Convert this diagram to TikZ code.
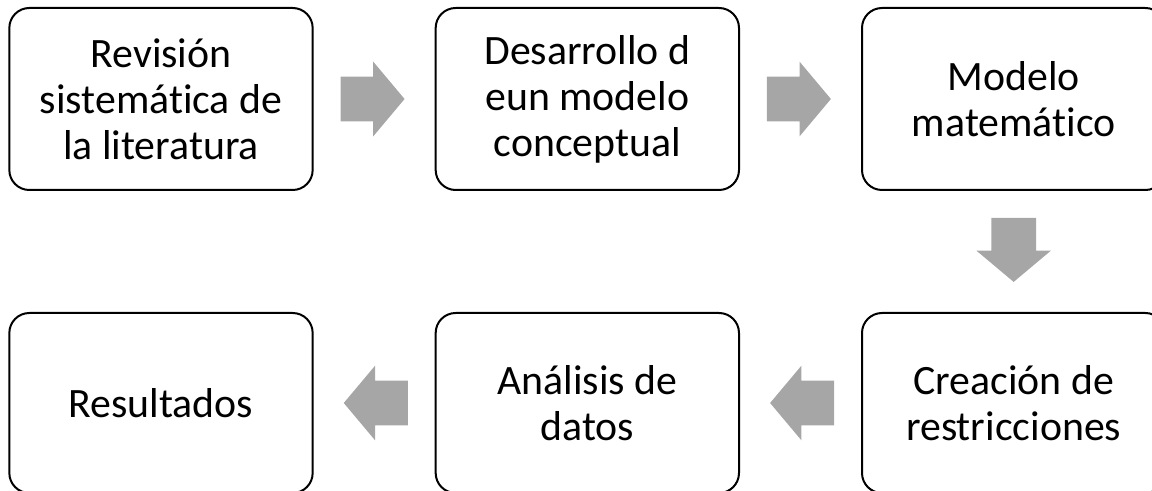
\documentclass[tikz,border=0pt]{standalone}
\usepackage{fontspec}
\setmainfont{Carlito}[Ligatures={NoCommon}]
\definecolor{arrowgray}{RGB}{166,166,166}
\usetikzlibrary{positioning,shapes.arrows,calc}

\begin{document}
\begin{tikzpicture}[x=0.5pt,y=-0.5pt,
    stepbox/.style={draw,line width=1pt,rounded corners=10pt,
      minimum width=151pt,minimum height=91pt,text width=145pt,
      align=flush center,font=\fontsize{20.9}{23}\selectfont},
    blockarrow/.style={single arrow,fill=arrowgray,draw=none,anchor=tail,
      inner xsep=0pt,inner ysep=11pt,
      minimum height=32pt,minimum width=37pt,
      single arrow head extend=7.5pt,single arrow tip angle=100},
    node distance=60.5pt
    ]
    \useasboundingbox (0,0) rectangle (1152,491);

    % the top row
    \node[stepbox] (b1) at (161,99) {Revisión\\sistemática de\\la literatura};
    \node[stepbox,right=of b1] (b2) {Desarrollo d\\eun modelo\\conceptual};
    \node[stepbox,right=of b2] (b3) {Modelo\\matemático};

    % the bottom row
    \node[stepbox,below=of b3,minimum height=90pt] (b4) {Creación de\\restricciones};
    \node[stepbox,left=of b4,minimum height=90pt] (b5) {Análisis de\\datos};
    \node[stepbox,left=of b5,minimum height=90pt] (b6) {Resultados};

    % the arrows (tail sits half a length before the midpoint)
    \node[blockarrow] (a1) at ($(b1.east)!0.5!(b2.west)+(-34,0)$) {};
    \node[blockarrow] (a2) at ($(b2.east)!0.5!(b3.west)+(-34,0)$) {};
    \node[blockarrow,rotate=-90] (a3) at ($(b3.south)!0.5!(b4.north)+(0,-34)$) {};
    \node[blockarrow,rotate=180] (a4) at ($(b4.west)!0.5!(b5.east)+(34,0)$) {};
    \node[blockarrow,rotate=180] (a5) at ($(b5.west)!0.5!(b6.east)+(34,0)$) {};
\end{tikzpicture}
\end{document}
